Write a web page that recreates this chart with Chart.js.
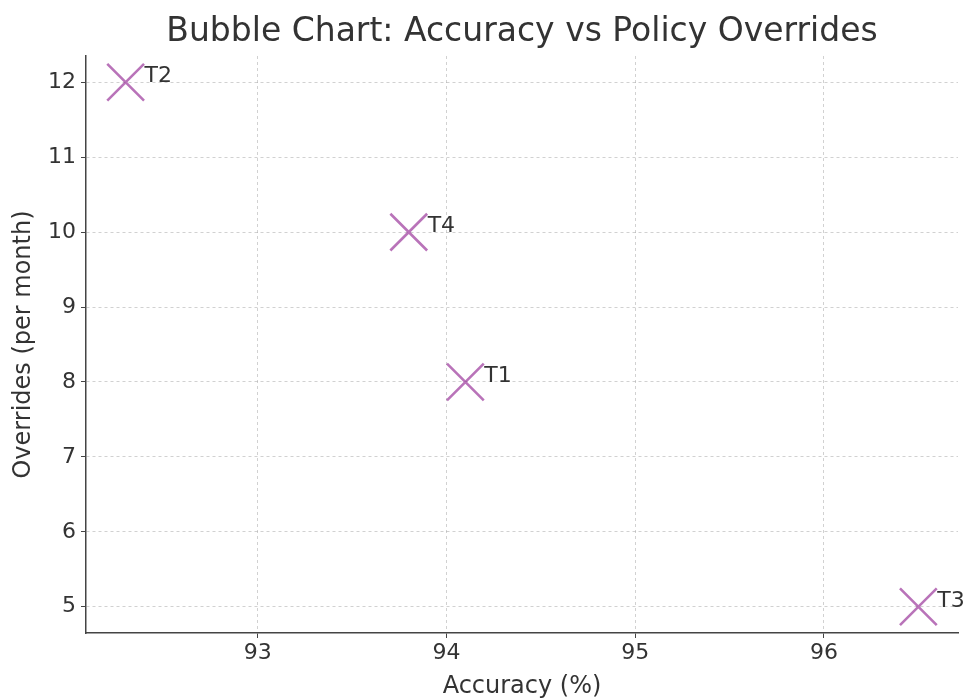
<!DOCTYPE html>
<html>
<head>
<meta charset="utf-8">
<script src="https://cdn.jsdelivr.net/npm/chart.js@4"></script>
<style>
  html, body { margin: 0; padding: 0; background: #fff; overflow: hidden; }
  canvas { display: block; }
</style>
</head>
<body>
<canvas id="bubble" width="968" height="699"></canvas>
<script>
// data
const names = ["T1", "T2", "T3", "T4"];
const accuracy = [94.1, 92.3, 96.5, 93.8];
const overrides = [8, 12, 5, 10];
const xTicks = [93, 94, 95, 96];
const yTicks = [5, 6, 7, 8, 9, 10, 11, 12];

const FONT = "'DejaVu Sans', sans-serif";
const TEXT = "#333";

// title + point labels, drawn like matplotlib's plt.title / plt.text
const labelPlugin = {
  id: "labels",
  afterDatasetsDraw(chart) {
    const ctx = chart.ctx;
    const area = chart.chartArea;
    const x = chart.scales.x, y = chart.scales.y;
    ctx.save();
    ctx.fillStyle = TEXT;
    ctx.font = "33px " + FONT;
    ctx.textAlign = "center";
    ctx.textBaseline = "alphabetic";
    ctx.fillText("Bubble Chart: Accuracy vs Policy Overrides", (area.left + area.right) / 2, 41);

    ctx.font = "22px " + FONT;
    ctx.textAlign = "left";
    names.forEach(function (n, i) {
      ctx.fillText(n, x.getPixelForValue(accuracy[i] + 0.1), y.getPixelForValue(overrides[i]));
    });
    ctx.restore();
  }
};

let points = names.map(function (n, i) {
  return { x: accuracy[i], y: overrides[i] };
});

const ctx = document.getElementById("bubble").getContext("2d");
new Chart(ctx, {
  type: "scatter",
  data: {
    datasets: [{
      label: "teams",
      data: points,
      pointStyle: "crossRot",
      pointRadius: 26,
      pointHoverRadius: 26,
      borderColor: "rgba(128, 0, 128, 0.55)",
      backgroundColor: "rgba(128, 0, 128, 0.55)",
      borderWidth: 2.6,
    }],
  },
  options: {
    responsive: false,
    animation: false,
    layout: { autoPadding: false, padding: { top: 56, right: 10, left: 0, bottom: 0 } },
    plugins: {
      legend: { display: false },
      tooltip: { enabled: false },
    },
    scales: {
      x: {
        type: "linear",
        min: 92.09,
        max: 96.71,
        afterBuildTicks: function (s) { s.ticks = xTicks.map(function (v) { return { value: v }; }); },
        afterFit: function (s) { s.height = 66; s.paddingLeft = 0; s.paddingRight = 0; },
        grid: { color: "rgba(0,0,0,0.18)", tickColor: "#444", tickLength: 5, lineWidth: 1 },
        border: { display: true, color: "#444", width: 1.5, dash: [3, 3] },
        ticks: { color: TEXT, font: { family: FONT, size: 22 }, padding: 2 },
        title: { display: true, text: "Accuracy (%)", color: TEXT, font: { family: FONT, size: 24 }, padding: { top: 0, bottom: -2 } },
      },
      y: {
        type: "linear",
        min: 4.65,
        max: 12.35,
        afterBuildTicks: function (s) { s.ticks = yTicks.map(function (v) { return { value: v }; }); },
        afterFit: function (s) { s.width = 86; s.paddingTop = 0; s.paddingBottom = 0; },
        grid: { color: "rgba(0,0,0,0.18)", tickColor: "#444", tickLength: 5, lineWidth: 1 },
        border: { display: true, color: "#444", width: 1.5, dash: [3, 3] },
        ticks: { color: TEXT, font: { family: FONT, size: 22 }, padding: 5 },
        title: { display: true, text: "Overrides (per month)", color: TEXT, font: { family: FONT, size: 24 }, padding: { top: 9, bottom: 0 } },
      },
    },
  },
  plugins: [labelPlugin],
});
</script>
</body>
</html>
